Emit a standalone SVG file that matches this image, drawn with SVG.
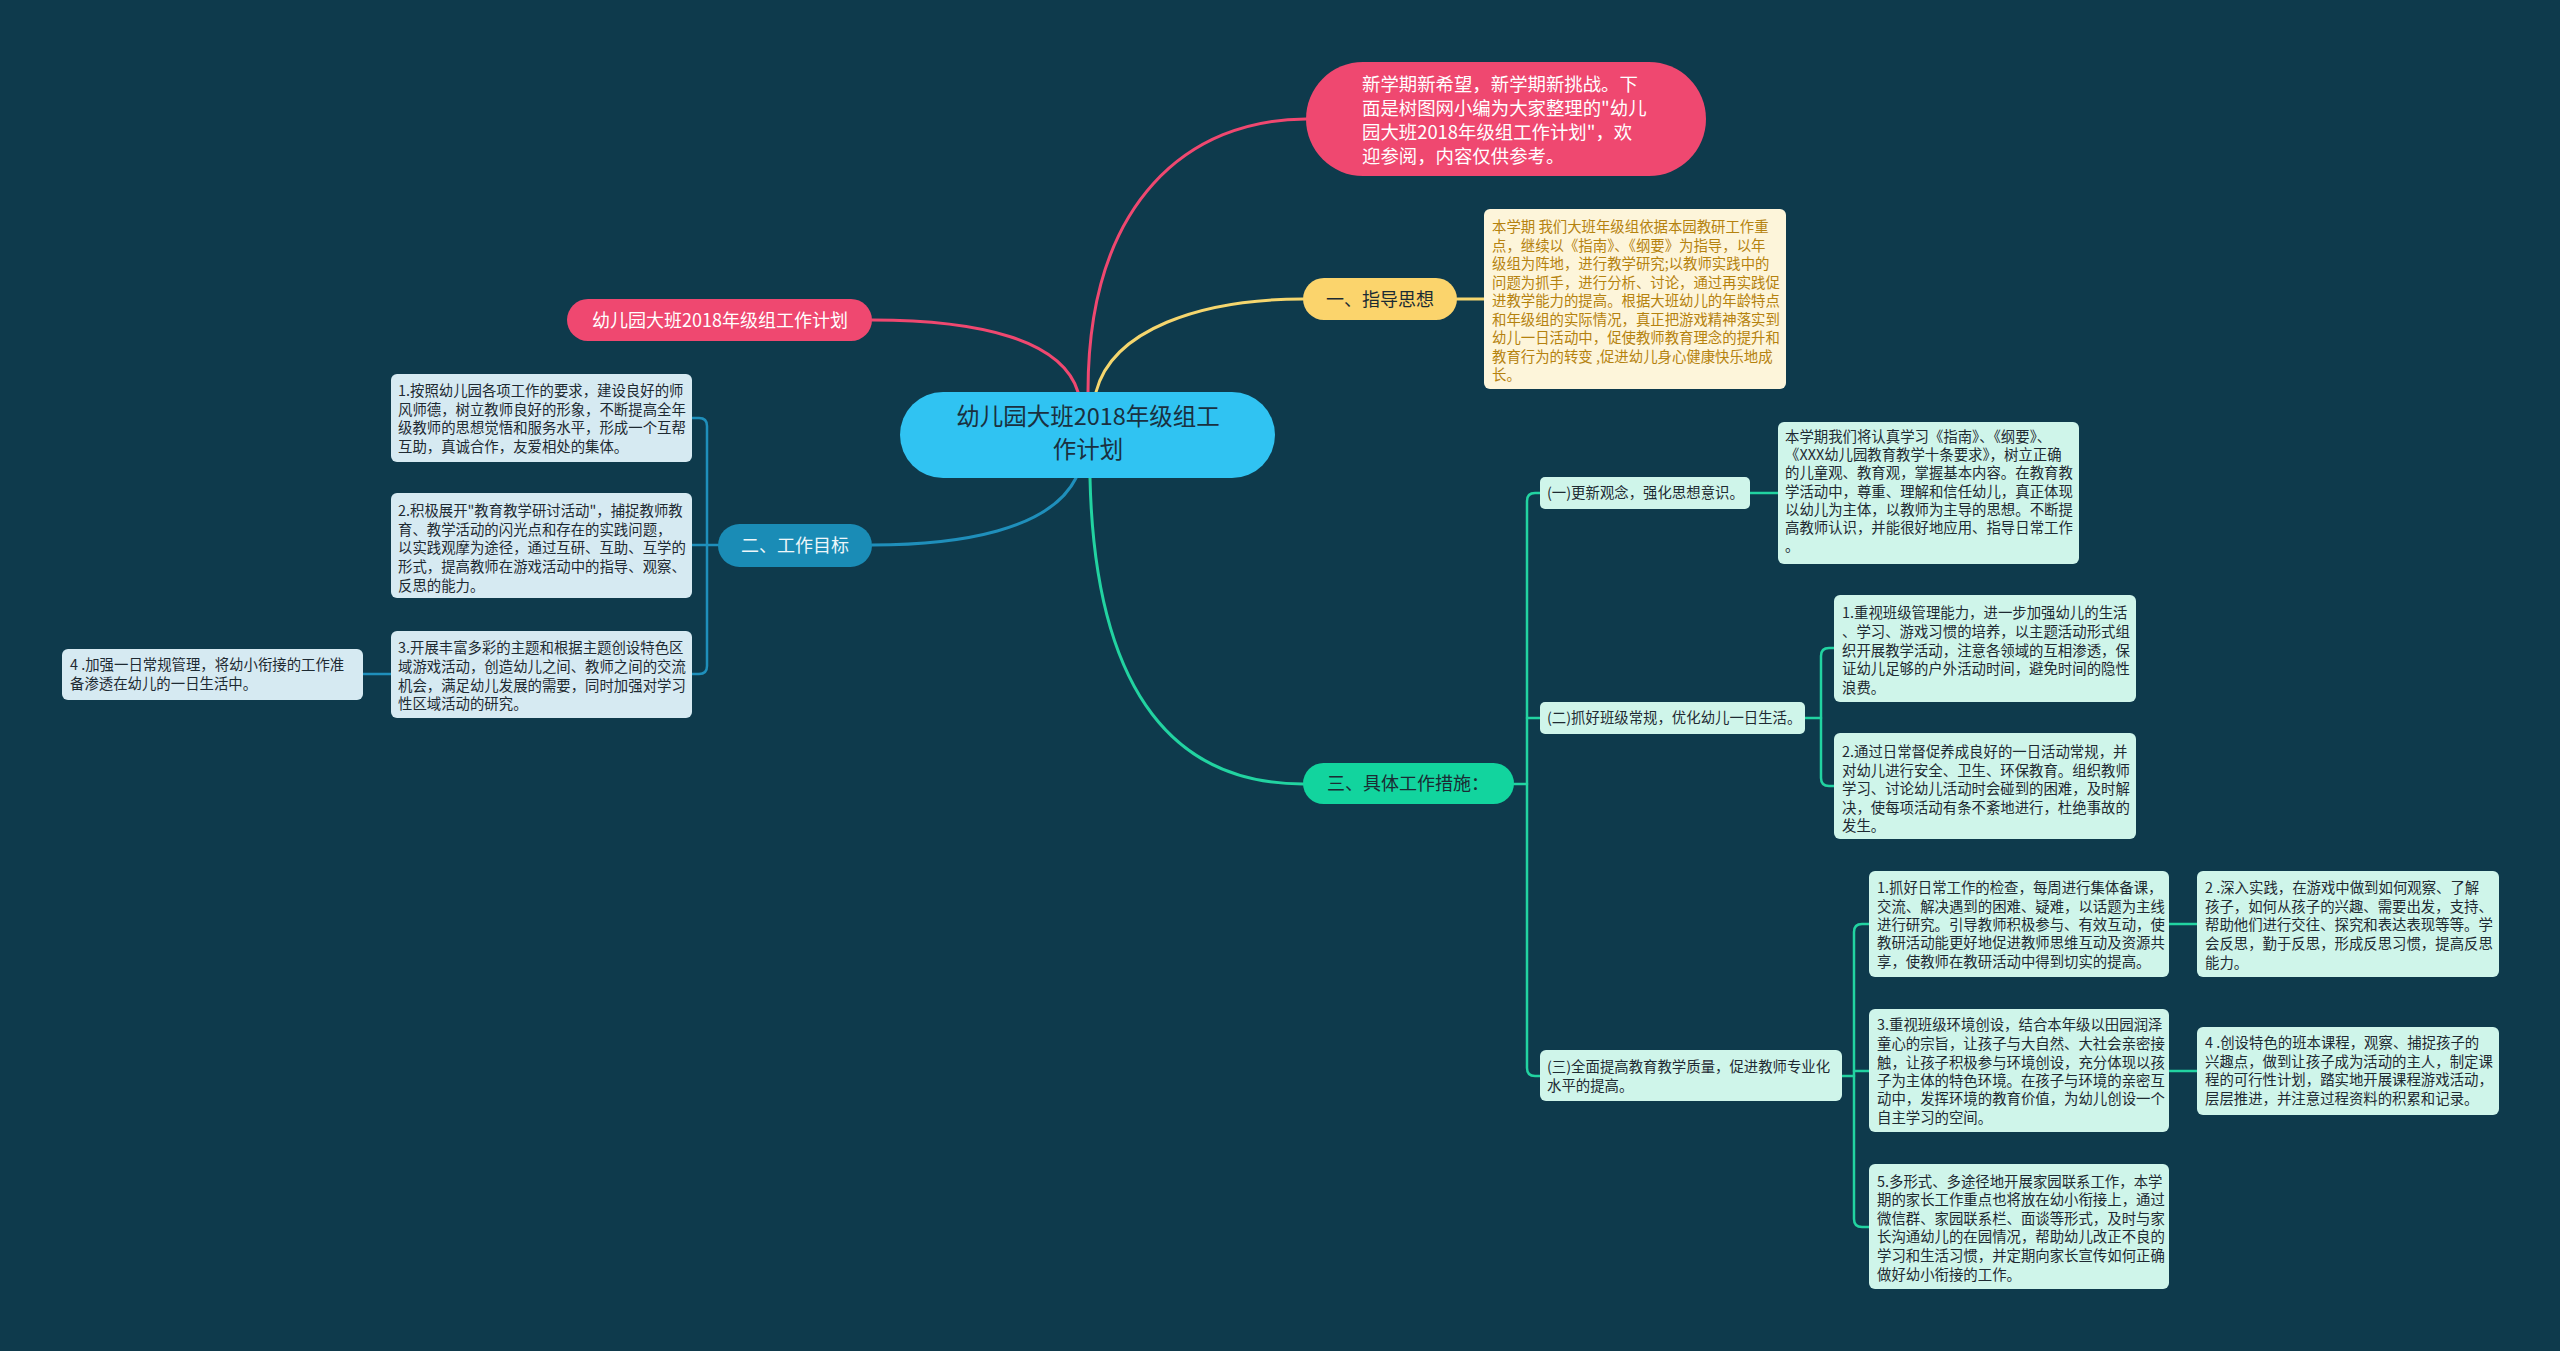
<svg xmlns="http://www.w3.org/2000/svg" width="2560" height="1351" viewBox="0 0 2560 1351">
<style>
text{font-family:"Noto Sans CJK SC","Noto Sans",sans-serif;}
.sm{font-size:14.4px;fill:#1e2a32;}
.gold{font-size:14.4px;fill:#b5820e;}
.lbl{font-size:18px;fill:#1b2b33;}
.wlbl{font-size:18px;fill:#eef7fa;}
.pinkT{font-size:18.4px;fill:#ffffff;}
.boxB{fill:#d6eaf2;}
.boxG{fill:#cff5ea;}
.boxY{fill:#fdf5da;}
.c{fill:none;stroke-linecap:round;}
.cp{stroke:#ef4870;stroke-width:3;}
.cy{stroke:#f5d66e;stroke-width:3;}
.cb{stroke:#1f8fbb;stroke-width:3;}
.cg{stroke:#22d3a1;stroke-width:3;}
.cb2{stroke:#1f8fbb;stroke-width:2.5;}
.cg2{stroke:#22d3a1;stroke-width:2.5;}
</style>
<rect x="0" y="0" width="2560" height="1351" fill="#0e3a4c"/>

<g id="connectors">
  <path class="c cp" d="M1088,392 C1088,200 1190,119 1306,119"/>
  <path class="c cp" d="M872,320 C980,320 1062,340 1078,392"/>
  <path class="c cy" d="M1096,392 C1112,330 1200,299 1303,299"/>
  <path class="c cy" d="M1457,299 H1484"/>
  <path class="c cb" d="M1076,478 C1050,530 960,545 872,545"/>
  <path class="c cg" d="M1090,478 C1095,700 1180,784 1303,784"/>
  <path class="c cb2" d="M718,545 H707"/>
  <path class="c cb2" d="M692,418 H699 Q707,418 707,426 V666 Q707,674 699,674 H692"/>
  <path class="c cb2" d="M707,545 H692"/>
  <path class="c cb2" d="M391,674 H363"/>
  <path class="c cg2" d="M1514,784 H1527"/>
  <path class="c cg2" d="M1540,493 H1535 Q1527,493 1527,501 V1068 Q1527,1076 1535,1076 H1540"/>
  <path class="c cg2" d="M1527,718 H1540"/>
  <path class="c cg2" d="M1750,493 H1778"/>
  <path class="c cg2" d="M1805,718 H1821"/>
  <path class="c cg2" d="M1834,648 H1829 Q1821,648 1821,656 V778 Q1821,786 1829,786 H1834"/>
  <path class="c cg2" d="M1841,1076 H1854"/>
  <path class="c cg2" d="M1869,924 H1862 Q1854,924 1854,932 V1219 Q1854,1227 1862,1227 H1869"/>
  <path class="c cg2" d="M1854,1071 H1869"/>
  <path class="c cg2" d="M2169,924 H2197"/>
  <path class="c cg2" d="M2169,1071 H2197"/>
</g>

<g id="center">
  <rect x="900" y="392" width="375" height="86" rx="43" fill="#30c3f2"/>
  <text x="1088" text-anchor="middle" style="font-size:23.5px;fill:#1a3040;"><tspan x="1088" y="425">幼儿园大班2018年级组工</tspan><tspan x="1088" y="458">作计划</tspan></text>
</g>

<g id="intro">
  <rect x="1306" y="62" width="400" height="114" rx="57" fill="#ef4870"/>
  <text class="pinkT"><tspan x="1362" y="91">新学期新希望，新学期新挑战。下</tspan><tspan x="1362" y="115">面是树图网小编为大家整理的"幼儿</tspan><tspan x="1362" y="139">园大班2018年级组工作计划"，欢</tspan><tspan x="1362" y="163">迎参阅，内容仅供参考。</tspan></text>
</g>

<g id="title-left">
  <rect x="567" y="299" width="305" height="42" rx="21" fill="#ef4870"/>
  <text x="720" y="326.5" text-anchor="middle" style="font-size:18px;fill:#ffffff;">幼儿园大班2018年级组工作计划</text>
</g>

<g id="guide">
  <rect x="1303" y="278" width="154" height="42" rx="21" fill="#fbd46c"/>
  <text class="lbl" x="1380" y="305.5" text-anchor="middle">一、指导思想</text>
</g>

<g id="guide-text">
  <rect class="boxY" x="1484" y="209" width="302" height="180" rx="6"/>
  <text class="gold"><tspan x="1492" y="232">本学期 我们大班年级组依据本园教研工作重</tspan><tspan x="1492" y="250.5">点，继续以《指南》、《纲要》为指导，以年</tspan><tspan x="1492" y="269">级组为阵地，进行教学研究;以教师实践中的</tspan><tspan x="1492" y="287.5">问题为抓手，进行分析、讨论，通过再实践促</tspan><tspan x="1492" y="306">进教学能力的提高。根据大班幼儿的年龄特点</tspan><tspan x="1492" y="324.5">和年级组的实际情况，真正把游戏精神落实到</tspan><tspan x="1492" y="343">幼儿一日活动中，促使教师教育理念的提升和</tspan><tspan x="1492" y="361.5">教育行为的转变 ,促进幼儿身心健康快乐地成</tspan><tspan x="1492" y="380">长。</tspan></text>
</g>

<g id="goals">
  <rect x="718" y="524" width="154" height="43" rx="21.5" fill="#1a8cb6"/>
  <text class="wlbl" x="795" y="551.5" text-anchor="middle">二、工作目标</text>
</g>

<g id="goal1">
  <rect class="boxB" x="391" y="374" width="301" height="88" rx="6"/>
  <text class="sm"><tspan x="398" y="396">1.按照幼儿园各项工作的要求，建设良好的师</tspan><tspan x="398" y="415">风师德，树立教师良好的形象，不断提高全年</tspan><tspan x="398" y="433">级教师的思想觉悟和服务水平，形成一个互帮</tspan><tspan x="398" y="452">互助，真诚合作，友爱相处的集体。</tspan></text>
</g>

<g id="goal2">
  <rect class="boxB" x="391" y="493" width="301" height="105" rx="6"/>
  <text class="sm"><tspan x="398" y="516">2.积极展开"教育教学研讨活动"，捕捉教师教</tspan><tspan x="398" y="535">育、教学活动的闪光点和存在的实践问题，</tspan><tspan x="398" y="553">以实践观摩为途径，通过互研、互助、互学的</tspan><tspan x="398" y="572">形式，提高教师在游戏活动中的指导、观察、</tspan><tspan x="398" y="591">反思的能力。</tspan></text>
</g>

<g id="goal3">
  <rect class="boxB" x="391" y="631" width="301" height="87" rx="6"/>
  <text class="sm"><tspan x="398" y="653">3.开展丰富多彩的主题和根据主题创设特色区</tspan><tspan x="398" y="672">域游戏活动，创造幼儿之间、教师之间的交流</tspan><tspan x="398" y="691">机会，满足幼儿发展的需要，同时加强对学习</tspan><tspan x="398" y="709">性区域活动的研究。</tspan></text>
</g>

<g id="goal4">
  <rect class="boxB" x="62" y="649" width="301" height="51" rx="6"/>
  <text class="sm"><tspan x="70" y="670">4 .加强一日常规管理，将幼小衔接的工作准</tspan><tspan x="70" y="689">备渗透在幼儿的一日生活中。</tspan></text>
</g>

<g id="measures">
  <rect x="1303" y="763" width="211" height="41" rx="20.5" fill="#12d49e"/>
  <text class="lbl" x="1408" y="790" text-anchor="middle">三、具体工作措施：</text>
</g>

<g id="m1">
  <rect class="boxG" x="1540" y="477" width="210" height="32" rx="5"/>
  <text class="sm" x="1547" y="498">(一)更新观念，强化思想意识。</text>
</g>

<g id="m1-text">
  <rect class="boxG" x="1778" y="422" width="301" height="142" rx="6"/>
  <text class="sm"><tspan x="1785" y="442">本学期我们将认真学习《指南》、《纲要》、</tspan><tspan x="1785" y="460">《XXX幼儿园教育教学十条要求》，树立正确</tspan><tspan x="1785" y="478">的儿童观、教育观，掌握基本内容。在教育教</tspan><tspan x="1785" y="496.5">学活动中，尊重、理解和信任幼儿，真正体现</tspan><tspan x="1785" y="515">以幼儿为主体，以教师为主导的思想。不断提</tspan><tspan x="1785" y="533">高教师认识，并能很好地应用、指导日常工作</tspan><tspan x="1785" y="551">。</tspan></text>
</g>

<g id="m2">
  <rect class="boxG" x="1540" y="702" width="265" height="32" rx="5"/>
  <text class="sm" x="1547" y="723">(二)抓好班级常规，优化幼儿一日生活。</text>
</g>

<g id="m2-1">
  <rect class="boxG" x="1834" y="595" width="302" height="107" rx="6"/>
  <text class="sm"><tspan x="1842" y="618">1.重视班级管理能力，进一步加强幼儿的生活</tspan><tspan x="1842" y="637">、学习、游戏习惯的培养，以主题活动形式组</tspan><tspan x="1842" y="656">织开展教学活动，注意各领域的互相渗透，保</tspan><tspan x="1842" y="674">证幼儿足够的户外活动时间，避免时间的隐性</tspan><tspan x="1842" y="693">浪费。</tspan></text>
</g>

<g id="m2-2">
  <rect class="boxG" x="1834" y="733" width="302" height="106" rx="6"/>
  <text class="sm"><tspan x="1842" y="757">2.通过日常督促养成良好的一日活动常规，并</tspan><tspan x="1842" y="775.5">对幼儿进行安全、卫生、环保教育。组织教师</tspan><tspan x="1842" y="794">学习、讨论幼儿活动时会碰到的困难，及时解</tspan><tspan x="1842" y="812.5">决，使每项活动有条不紊地进行，杜绝事故的</tspan><tspan x="1842" y="831">发生。</tspan></text>
</g>

<g id="m3">
  <rect class="boxG" x="1540" y="1050" width="302" height="51" rx="6"/>
  <text class="sm"><tspan x="1547" y="1072">(三)全面提高教育教学质量，促进教师专业化</tspan><tspan x="1547" y="1091">水平的提高。</tspan></text>
</g>

<g id="m3-1">
  <rect class="boxG" x="1869" y="871" width="300" height="106" rx="6"/>
  <text class="sm"><tspan x="1877" y="893">1.抓好日常工作的检查，每周进行集体备课，</tspan><tspan x="1877" y="912">交流、解决遇到的困难、疑难，以话题为主线</tspan><tspan x="1877" y="930">进行研究。引导教师积极参与、有效互动，使</tspan><tspan x="1877" y="948">教研活动能更好地促进教师思维互动及资源共</tspan><tspan x="1877" y="967">享，使教师在教研活动中得到切实的提高。</tspan></text>
</g>

<g id="m3-3">
  <rect class="boxG" x="1869" y="1009" width="300" height="123" rx="6"/>
  <text class="sm"><tspan x="1877" y="1030">3.重视班级环境创设，结合本年级以田园润泽</tspan><tspan x="1877" y="1049">童心的宗旨，让孩子与大自然、大社会亲密接</tspan><tspan x="1877" y="1068">触，让孩子积极参与环境创设，充分体现以孩</tspan><tspan x="1877" y="1086">子为主体的特色环境。在孩子与环境的亲密互</tspan><tspan x="1877" y="1104">动中，发挥环境的教育价值，为幼儿创设一个</tspan><tspan x="1877" y="1123">自主学习的空间。</tspan></text>
</g>

<g id="m3-5">
  <rect class="boxG" x="1869" y="1164" width="300" height="125" rx="6"/>
  <text class="sm"><tspan x="1877" y="1187">5.多形式、多途径地开展家园联系工作，本学</tspan><tspan x="1877" y="1205">期的家长工作重点也将放在幼小衔接上，通过</tspan><tspan x="1877" y="1224">微信群、家园联系栏、面谈等形式，及时与家</tspan><tspan x="1877" y="1242">长沟通幼儿的在园情况，帮助幼儿改正不良的</tspan><tspan x="1877" y="1261">学习和生活习惯，并定期向家长宣传如何正确</tspan><tspan x="1877" y="1280">做好幼小衔接的工作。</tspan></text>
</g>

<g id="m3-2">
  <rect class="boxG" x="2197" y="871" width="302" height="106" rx="6"/>
  <text class="sm"><tspan x="2205" y="893">2 .深入实践，在游戏中做到如何观察、了解</tspan><tspan x="2205" y="912">孩子，如何从孩子的兴趣、需要出发，支持、</tspan><tspan x="2205" y="930">帮助他们进行交往、探究和表达表现等等。学</tspan><tspan x="2205" y="949">会反思，勤于反思，形成反思习惯，提高反思</tspan><tspan x="2205" y="968">能力。</tspan></text>
</g>

<g id="m3-4">
  <rect class="boxG" x="2197" y="1027" width="302" height="88" rx="6"/>
  <text class="sm"><tspan x="2205" y="1048">4 .创设特色的班本课程，观察、捕捉孩子的</tspan><tspan x="2205" y="1067">兴趣点，做到让孩子成为活动的主人，制定课</tspan><tspan x="2205" y="1085">程的可行性计划，踏实地开展课程游戏活动，</tspan><tspan x="2205" y="1104">层层推进，并注意过程资料的积累和记录。</tspan></text>
</g>
</svg>
